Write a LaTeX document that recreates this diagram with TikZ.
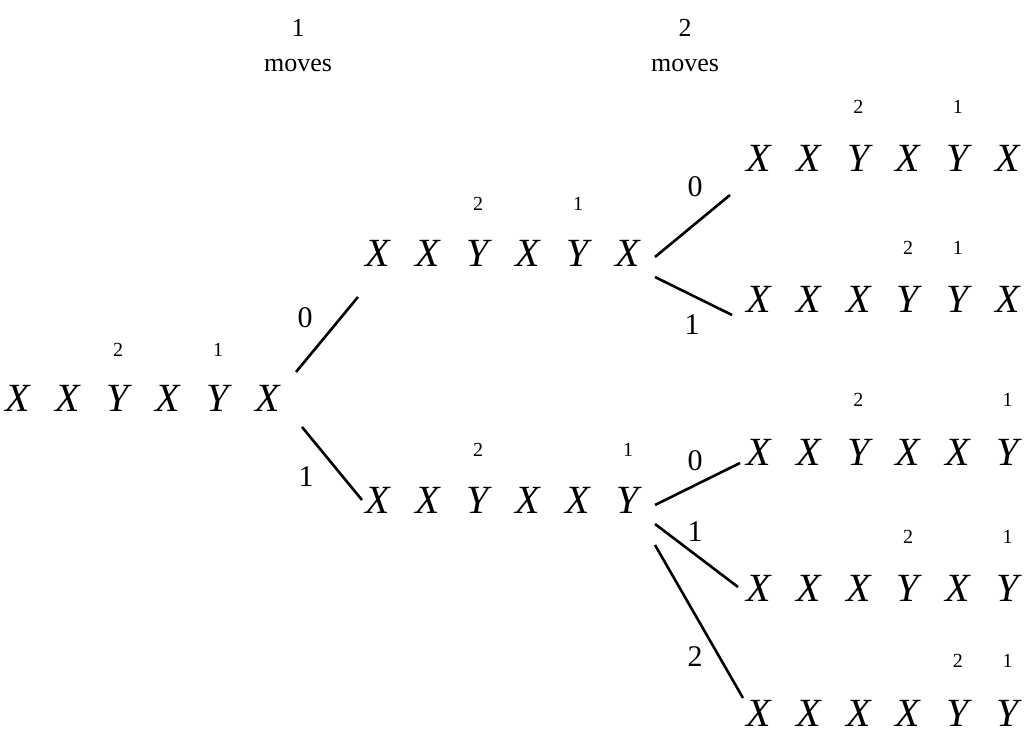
\documentclass[tikz,border=0pt]{standalone}
\usepackage{fontspec}
\setmainfont{Liberation Serif}
\begin{document}
\begin{tikzpicture}[x=1pt,y=-1pt,
  sym/.style={inner sep=0pt,font=\fontsize{40}{40}\selectfont\itshape},
  idx/.style={inner sep=0pt,font=\fontsize{20}{20}\selectfont},
  lbl/.style={inner sep=0pt,font=\fontsize{30}{30}\selectfont},
  head/.style={inner sep=0pt,font=\fontsize{26}{26}\selectfont},
  edge/.style={line width=2.6pt}]
\useasboundingbox (0,0) rectangle (1028,735);

% column headers
\node[head] (h1n) at (298,28) {1};
\node[head] (h1m) at (298,66) {moves};
\node[head] (h2n) at (685,28) {2};
\node[head] (h2m) at (685,66) {moves};

% a row of symbols: name, x of first symbol, step, y, symbols
\newcommand{\symrow}[5]{%
  \foreach \ch [count=\k from 0] in {#5}
    \node[sym] (#1-\k) at (#2+#3*\k,#4) {\ch};}

% starting position
\symrow{root}{18}{50}{398}{X,X,Y,X,Y,X}
\node[idx] (root-a) at (118,350) {2};
\node[idx] (root-b) at (218,350) {1};

% after one move
\symrow{um}{378}{50}{253}{X,X,Y,X,Y,X}
\node[idx] (um-a) at (478,204) {2};
\node[idx] (um-b) at (578,204) {1};

\symrow{lm}{378}{50}{500}{X,X,Y,X,X,Y}
\node[idx] (lm-a) at (478,450) {2};
\node[idx] (lm-b) at (628,450) {1};

% after two moves
\symrow{ra}{759}{49.7}{158}{X,X,Y,X,Y,X}
\node[idx] (ra-a) at (858.4,107) {2};
\node[idx] (ra-b) at (957.8,107) {1};

\symrow{rb}{759}{49.7}{299}{X,X,X,Y,Y,X}
\node[idx] (rb-a) at (908.1,248) {2};
\node[idx] (rb-b) at (957.8,248) {1};

\symrow{rc}{759}{49.7}{452}{X,X,Y,X,X,Y}
\node[idx] (rc-a) at (858.4,400) {2};
\node[idx] (rc-b) at (1007.5,400) {1};

\symrow{rd}{759}{49.7}{588}{X,X,X,Y,X,Y}
\node[idx] (rd-a) at (908.1,537) {2};
\node[idx] (rd-b) at (1007.5,537) {1};

\symrow{re}{759}{49.7}{713}{X,X,X,X,Y,Y}
\node[idx] (re-a) at (957.8,661) {2};
\node[idx] (re-b) at (1007.5,661) {1};

% moves from the start
\draw[edge] ([shift={(28,-26)}]root-5.center) -- ([shift={(-20,44)}]um-0.center);
\draw[edge] ([shift={(34,29)}]root-5.center) -- ([shift={(-16,0)}]lm-0.center);
\node[lbl] (m1) at (305,318) {0};
\node[lbl] (m2) at (306,477) {1};

% moves from the upper position
\draw[edge] ([shift={(27,4)}]um-5.center) -- ([shift={(-29,37)}]ra-0.center);
\draw[edge] ([shift={(27,24)}]um-5.center) -- ([shift={(-27,16)}]rb-0.center);
\node[lbl] (m3) at (695,187) {0};
\node[lbl] (m4) at (692,325) {1};

% moves from the lower position
\draw[edge] ([shift={(27,5)}]lm-5.center) -- ([shift={(-19,11)}]rc-0.center);
\draw[edge] ([shift={(27,24)}]lm-5.center) -- ([shift={(-21,-1)}]rd-0.center);
\draw[edge] ([shift={(27,45)}]lm-5.center) -- ([shift={(-16,-15)}]re-0.center);
\node[lbl] (m5) at (695,461) {0};
\node[lbl] (m6) at (695,532) {1};
\node[lbl] (m7) at (695,657) {2};
\end{tikzpicture}
\end{document}
